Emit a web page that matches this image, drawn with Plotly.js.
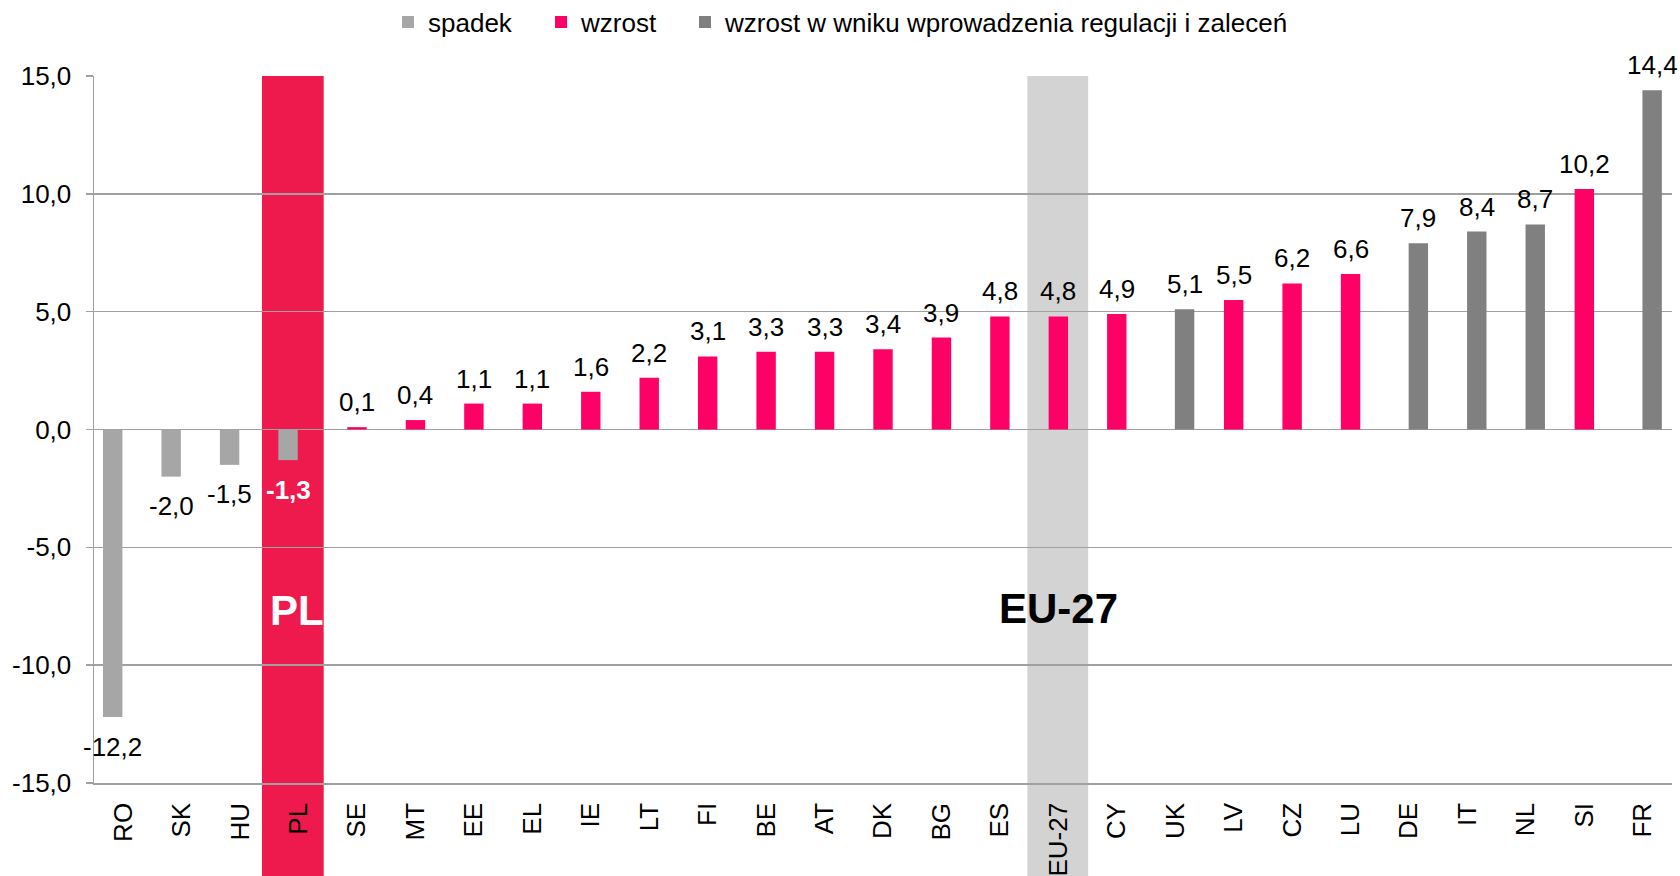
<!DOCTYPE html>
<html>
<head>
<meta charset="utf-8">
<script src="https://cdn.plot.ly/plotly-3.0.1.min.js"></script>
<style>html,body{margin:0;padding:0;background:#fff;}#chart{width:1680px;height:876px;}</style>
</head>
<body>
<div id="chart"></div>
<script>
// ---- data ----
const categories = ['RO','SK','HU','PL','SE','MT','EE','EL','IE','LT','FI','BE','AT','DK','BG','ES','EU-27','CY','UK','LV','CZ','LU','DE','IT','NL','SI','FR'];
const seriesNames = ['spadek', 'wzrost', 'wzrost w wniku wprowadzenia regulacji i zaleceń'];
const spadek =    [-12.2, -2.0, -1.5, -1.3, null, null, null, null, null, null, null, null, null, null, null, null, null, null, null, null, null, null, null, null, null, null, null];
const wzrost =    [null, null, null, null, 0.1, 0.4, 1.1, 1.1, 1.6, 2.2, 3.1, 3.3, 3.3, 3.4, 3.9, 4.8, 4.8, 4.9, null, 5.5, 6.2, 6.6, null, null, null, 10.2, null];
const regulacje = [null, null, null, null, null, null, null, null, null, null, null, null, null, null, null, null, null, null, 5.1, null, null, null, 7.9, 8.4, 8.7, null, 14.4];
const yTickVals = [-15, -10, -5, 0, 5, 10, 15];
const yTickText = ['-15,0', '-10,0', '-5,0', '0,0', '5,0', '10,0', '15,0'];
const highlightPL = 'PL';
const highlightEU = 'EU-27';

// ---- style ----
const FONT = 'Liberation Sans, Arial, sans-serif';
const colors = ['#A6A6A6', '#FF0066', '#808080'];
const W = 1680, H = 876;
const M = {l: 94, r: 8, t: 76, b: 93};
const plotW = W - M.l - M.r;
const slotPx = plotW / categories.length;
const barW = 0.332;
const centers = [-0.18, 0, 0.16];   // bar centre offset within category slot

const seriesVals = [spadek, wzrost, regulacje];
const legendIds = ['legend', 'legend2', 'legend3'];

const traces = seriesVals.map((vals, i) => ({
  type: 'bar',
  name: seriesNames[i],
  x: categories,
  y: vals,
  width: barW,
  offset: centers[i] - barW / 2,
  marker: {color: colors[i]},
  legend: legendIds[i],
  hoverinfo: 'x+y+name'
}));

function fmt(v) { return v.toFixed(1).replace('.', ','); }

const annotations = [];
seriesVals.forEach((vals, i) => {
  vals.forEach((v, j) => {
    if (v === null) return;
    const isPL = categories[j] === highlightPL;
    annotations.push({
      x: categories[j], y: v, xref: 'x', yref: 'y',
      text: isPL ? '<b>' + fmt(v) + '</b>' : fmt(v),
      showarrow: false,
      xanchor: 'center', yanchor: 'middle',
      xshift: centers[i] * slotPx,
      yshift: v >= 0 ? 25 : -29.5,
      font: {family: FONT, size: 26, color: isPL ? '#FFFFFF' : '#000000'}
    });
  });
});
annotations.push({
  x: highlightPL, y: -7.7, xref: 'x', yref: 'y', text: '<b>PL</b>', showarrow: false,
  xshift: -2, font: {family: FONT, size: 42, color: '#FFFFFF'}
});
annotations.push({
  x: highlightEU, y: -7.6, xref: 'x', yref: 'y', text: '<b>EU-27</b>', showarrow: false,
  font: {family: FONT, size: 42, color: '#000000'}
});

const iPL = categories.indexOf(highlightPL);
const iEU = categories.indexOf(highlightEU);
const shapes = [
  {type: 'rect', layer: 'below', xref: 'x', yref: 'paper', x0: iPL - 0.626, x1: iPL + 0.43, y0: -0.2, y1: 1,
   fillcolor: '#EE1A4D', line: {width: 0}},
  {type: 'rect', layer: 'below', xref: 'x', yref: 'paper', x0: iEU - 0.53, x1: iEU + 0.51, y0: -0.2, y1: 1,
   fillcolor: '#D3D3D3', line: {width: 0}}
];

const legendBase = {
  orientation: 'h', xref: 'container', yref: 'container', xanchor: 'left', yanchor: 'middle',
  y: 1 - 22 / H, font: {family: FONT, size: 26, color: '#000'}, bgcolor: 'rgba(0,0,0,0)',
  itemwidth: 30, tracegroupgap: 0
};

const layout = {
  width: W, height: H,
  margin: M,
  paper_bgcolor: '#FFFFFF', plot_bgcolor: '#FFFFFF',
  font: {family: FONT, size: 26, color: '#000'},
  separators: ', ',
  barmode: 'overlay',
  showlegend: true,
  legend: Object.assign({}, legendBase, {x: 388 / W}),
  legend2: Object.assign({}, legendBase, {x: 541 / W}),
  legend3: Object.assign({}, legendBase, {x: 685 / W}),
  xaxis: {
    type: 'category', range: [-0.5, categories.length - 0.5],
    tickangle: -90, ticks: '', showgrid: false, showline: true, linecolor: '#A0A0A0', linewidth: 1.5,
    tickfont: {family: FONT, size: 26, color: '#000'}, ticklabelstandoff: 8, fixedrange: true
  },
  yaxis: {
    range: [-15, 15], tickvals: yTickVals, ticktext: yTickText,
    showgrid: true, gridcolor: '#A0A0A0', gridwidth: 1.5, zeroline: false,
    showline: true, linecolor: '#A0A0A0', linewidth: 1.5,
    ticks: 'outside', ticklen: 7, tickcolor: '#A0A0A0', tickwidth: 1.5,
    tickfont: {family: FONT, size: 26, color: '#000'}, ticklabelstandoff: 9, fixedrange: true
  },
  shapes: shapes,
  annotations: annotations
};

Plotly.newPlot('chart', traces, layout, {displayModeBar: false, staticPlot: true});
</script>
</body>
</html>
